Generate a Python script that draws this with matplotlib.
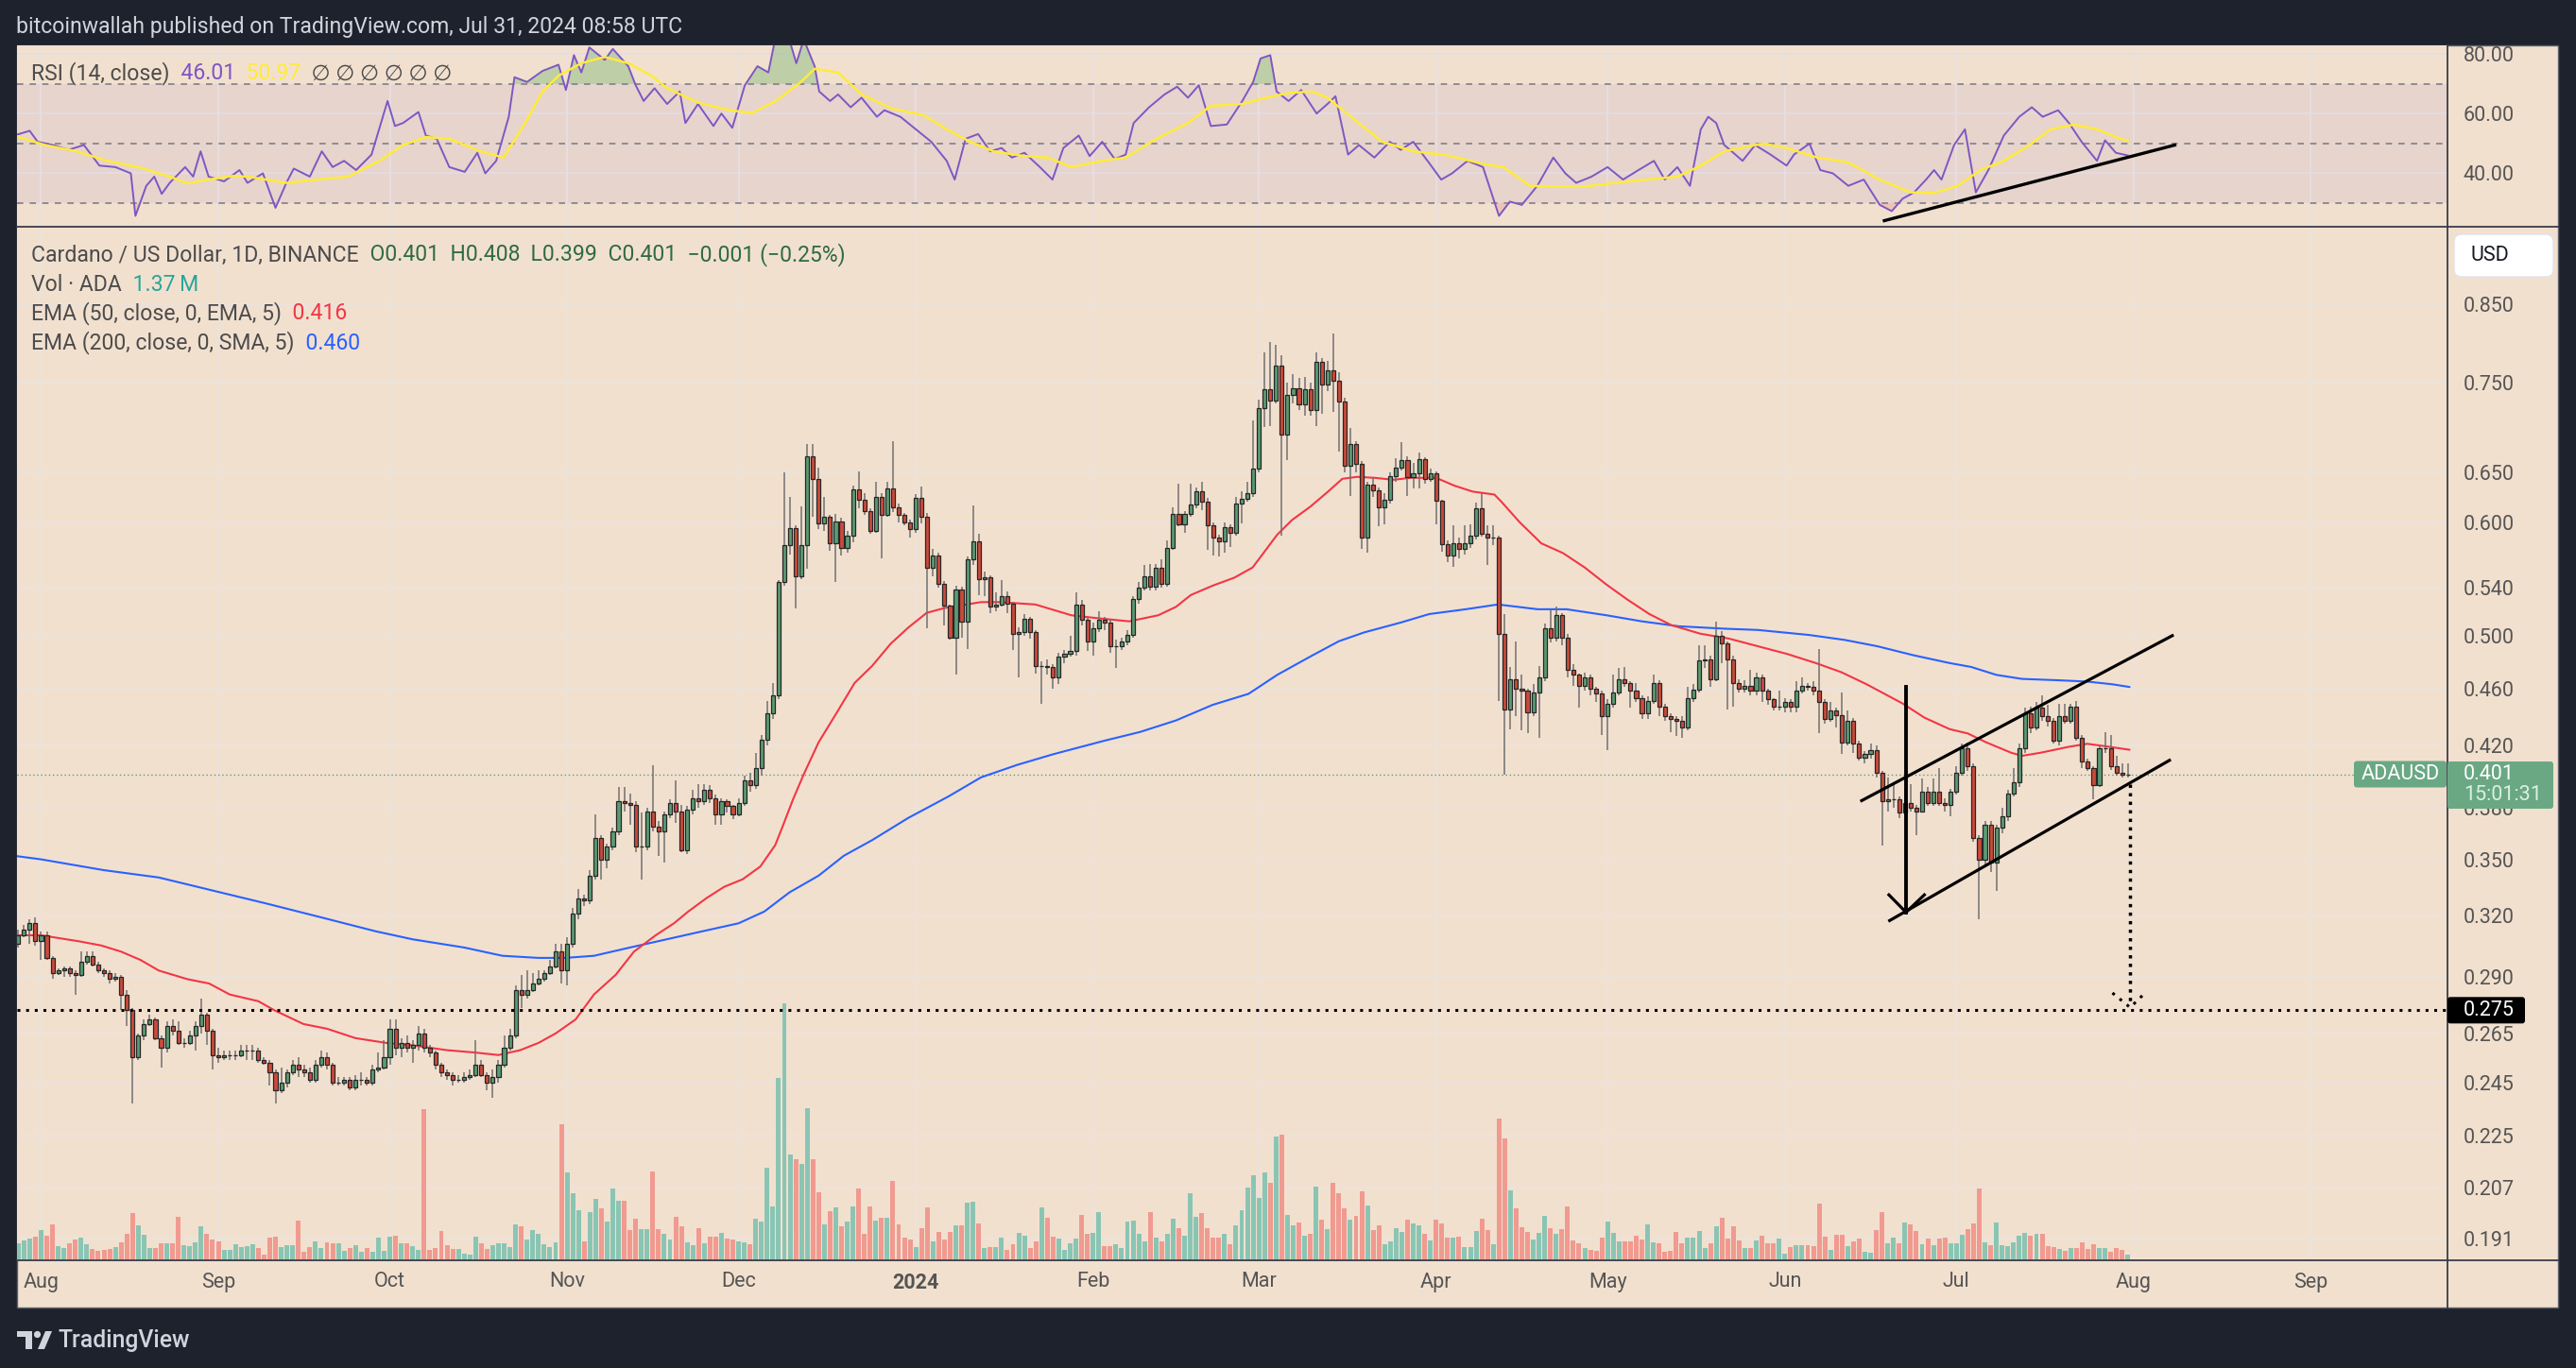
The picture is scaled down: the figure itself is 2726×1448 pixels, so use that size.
import numpy as np
import pandas as pd
import matplotlib
matplotlib.use("Agg")
import matplotlib.pyplot as plt
import matplotlib.transforms as mtransforms
from matplotlib.lines import Line2D
from matplotlib.patches import Rectangle, FancyBboxPatch, Polygon, Circle
from matplotlib.ticker import FixedLocator, NullLocator, NullFormatter

# ===================== DATA =====================
# Daily ADA/USD candles, first candle 2023-07-28, last 2024-07-31.
first_date = "2023-07-28"
first_open = 0.306
closes = [
    0.310, 0.313, 0.316, 0.307,
    0.310, 0.299, 0.292, 0.293, 0.294, 0.292, 0.291, 0.297, 0.300, 0.296,
    0.293, 0.292, 0.289, 0.290, 0.282, 0.275, 0.255, 0.264, 0.269, 0.271,
    0.263, 0.259, 0.268, 0.266, 0.261, 0.261, 0.264, 0.268, 0.273, 0.266,
    0.256, 0.255, 0.256, 0.256, 0.256, 0.258, 0.258, 0.258, 0.254, 0.253,
    0.249, 0.242, 0.245, 0.249, 0.252, 0.250, 0.249, 0.246, 0.252, 0.255,
    0.252, 0.245, 0.245, 0.246, 0.243, 0.246, 0.246, 0.245, 0.250, 0.251,
    0.255, 0.267, 0.259, 0.261, 0.259, 0.260, 0.265, 0.259, 0.257, 0.252,
    0.249, 0.248, 0.246, 0.246, 0.247, 0.248, 0.252, 0.248, 0.245, 0.247,
    0.252, 0.259, 0.264, 0.284, 0.282, 0.284, 0.287, 0.289, 0.292, 0.295,
    0.302, 0.293, 0.306, 0.321, 0.329, 0.328, 0.341, 0.362, 0.350, 0.357,
    0.366, 0.384, 0.383, 0.382, 0.357, 0.357, 0.378, 0.369, 0.366, 0.376,
    0.383, 0.378, 0.355, 0.379, 0.386, 0.384, 0.391, 0.386, 0.376, 0.384,
    0.381, 0.376, 0.383, 0.397, 0.394, 0.405, 0.424, 0.442, 0.455, 0.545,
    0.578, 0.594, 0.550, 0.578, 0.667, 0.643, 0.599, 0.605, 0.580, 0.601,
    0.576, 0.587, 0.632, 0.622, 0.611, 0.592, 0.625, 0.607, 0.633, 0.614,
    0.607, 0.600, 0.593, 0.624, 0.605, 0.558, 0.569, 0.544, 0.525, 0.499,
    0.539, 0.512, 0.565, 0.582, 0.548, 0.549, 0.524, 0.526, 0.533, 0.527,
    0.502, 0.503, 0.514, 0.503, 0.477, 0.477, 0.476, 0.468, 0.484, 0.486,
    0.488, 0.526, 0.513, 0.496, 0.506, 0.513, 0.511, 0.492, 0.492, 0.496,
    0.501, 0.531, 0.540, 0.550, 0.541, 0.558, 0.544, 0.576, 0.608, 0.598,
    0.608, 0.617, 0.630, 0.620, 0.597, 0.585, 0.582, 0.595, 0.590, 0.618,
    0.623, 0.628, 0.654, 0.720, 0.742, 0.729, 0.771, 0.690, 0.735, 0.743,
    0.724, 0.742, 0.718, 0.775, 0.748, 0.765, 0.752, 0.728, 0.657, 0.680,
    0.659, 0.585, 0.637, 0.631, 0.614, 0.622, 0.646, 0.655, 0.663, 0.645,
    0.649, 0.664, 0.643, 0.649, 0.621, 0.579, 0.569, 0.580, 0.575, 0.580,
    0.587, 0.613, 0.589, 0.585, 0.585, 0.502, 0.445, 0.467, 0.460, 0.458,
    0.443, 0.457, 0.468, 0.506, 0.499, 0.517, 0.499, 0.474, 0.470, 0.462,
    0.468, 0.460, 0.456, 0.440, 0.449, 0.457, 0.467, 0.464, 0.458, 0.453,
    0.442, 0.451, 0.464, 0.447, 0.440, 0.438, 0.437, 0.432, 0.453, 0.459,
    0.481, 0.482, 0.467, 0.500, 0.494, 0.482, 0.464, 0.460, 0.462, 0.458,
    0.468, 0.458, 0.452, 0.447, 0.447, 0.450, 0.447, 0.458, 0.462, 0.461,
    0.458, 0.450, 0.438, 0.444, 0.441, 0.422, 0.437, 0.421, 0.412, 0.414,
    0.417, 0.402, 0.384, 0.385, 0.385, 0.377, 0.383, 0.380, 0.378, 0.390,
    0.383, 0.390, 0.383, 0.382, 0.390, 0.402, 0.418, 0.406, 0.362, 0.350,
    0.370, 0.348, 0.368, 0.375, 0.389, 0.396, 0.418, 0.442, 0.432, 0.446,
    0.440, 0.437, 0.423, 0.440, 0.437, 0.447, 0.425, 0.409, 0.405, 0.394,
    0.418, 0.418, 0.406, 0.402, 0.401, 0.401,
]
highs = [
    0.313, 0.315, 0.318, 0.319,
    0.312, 0.312, 0.300, 0.294, 0.295, 0.295, 0.293, 0.302, 0.302, 0.302,
    0.297, 0.294, 0.293, 0.292, 0.291, 0.284, 0.276, 0.265, 0.271, 0.273,
    0.272, 0.264, 0.270, 0.271, 0.270, 0.263, 0.266, 0.270, 0.280, 0.274,
    0.267, 0.259, 0.258, 0.258, 0.258, 0.260, 0.260, 0.260, 0.259, 0.255,
    0.254, 0.250, 0.251, 0.250, 0.254, 0.255, 0.252, 0.251, 0.254, 0.258,
    0.257, 0.253, 0.247, 0.247, 0.247, 0.248, 0.249, 0.247, 0.252, 0.257,
    0.262, 0.271, 0.271, 0.263, 0.264, 0.262, 0.268, 0.267, 0.260, 0.258,
    0.253, 0.250, 0.249, 0.248, 0.249, 0.250, 0.262, 0.254, 0.249, 0.250,
    0.254, 0.264, 0.267, 0.286, 0.291, 0.293, 0.292, 0.293, 0.293, 0.298,
    0.306, 0.306, 0.309, 0.324, 0.334, 0.331, 0.344, 0.376, 0.364, 0.359,
    0.368, 0.393, 0.393, 0.389, 0.384, 0.377, 0.380, 0.407, 0.372, 0.378,
    0.385, 0.397, 0.382, 0.381, 0.391, 0.395, 0.395, 0.394, 0.388, 0.386,
    0.385, 0.382, 0.386, 0.400, 0.402, 0.415, 0.427, 0.451, 0.464, 0.547,
    0.650, 0.625, 0.597, 0.615, 0.680, 0.680, 0.655, 0.625, 0.607, 0.608,
    0.604, 0.592, 0.636, 0.651, 0.628, 0.613, 0.640, 0.628, 0.640, 0.683,
    0.618, 0.609, 0.602, 0.627, 0.635, 0.609, 0.575, 0.571, 0.546, 0.526,
    0.542, 0.541, 0.568, 0.616, 0.589, 0.554, 0.551, 0.536, 0.547, 0.537,
    0.528, 0.507, 0.518, 0.516, 0.505, 0.480, 0.482, 0.478, 0.487, 0.489,
    0.500, 0.536, 0.530, 0.515, 0.511, 0.520, 0.516, 0.513, 0.497, 0.499,
    0.505, 0.533, 0.545, 0.560, 0.561, 0.561, 0.565, 0.583, 0.614, 0.638,
    0.611, 0.638, 0.634, 0.640, 0.624, 0.600, 0.588, 0.600, 0.598, 0.625,
    0.630, 0.640, 0.706, 0.730, 0.787, 0.800, 0.797, 0.784, 0.750, 0.760,
    0.755, 0.757, 0.750, 0.787, 0.780, 0.776, 0.811, 0.762, 0.732, 0.697,
    0.683, 0.662, 0.640, 0.645, 0.634, 0.628, 0.650, 0.665, 0.682, 0.667,
    0.660, 0.671, 0.666, 0.654, 0.651, 0.622, 0.583, 0.597, 0.585, 0.597,
    0.598, 0.619, 0.628, 0.597, 0.597, 0.587, 0.518, 0.476, 0.496, 0.470,
    0.460, 0.463, 0.477, 0.510, 0.522, 0.524, 0.519, 0.502, 0.478, 0.471,
    0.472, 0.470, 0.461, 0.458, 0.452, 0.470, 0.475, 0.476, 0.465, 0.464,
    0.455, 0.454, 0.470, 0.466, 0.449, 0.442, 0.440, 0.440, 0.461, 0.463,
    0.493, 0.493, 0.485, 0.512, 0.504, 0.496, 0.485, 0.467, 0.466, 0.474,
    0.472, 0.470, 0.460, 0.453, 0.458, 0.453, 0.452, 0.465, 0.468, 0.464,
    0.465, 0.490, 0.452, 0.450, 0.446, 0.457, 0.444, 0.439, 0.423, 0.416,
    0.421, 0.420, 0.403, 0.399, 0.395, 0.387, 0.392, 0.395, 0.382, 0.398,
    0.393, 0.398, 0.405, 0.386, 0.392, 0.406, 0.421, 0.422, 0.408, 0.364,
    0.372, 0.372, 0.370, 0.380, 0.391, 0.405, 0.421, 0.446, 0.447, 0.450,
    0.455, 0.448, 0.439, 0.449, 0.449, 0.449, 0.451, 0.427, 0.411, 0.406,
    0.420, 0.429, 0.427, 0.413, 0.408, 0.408,
]
lows = [
    0.304, 0.309, 0.306, 0.305,
    0.298, 0.298, 0.289, 0.291, 0.290, 0.290, 0.282, 0.290, 0.296, 0.295,
    0.292, 0.290, 0.287, 0.288, 0.275, 0.268, 0.237, 0.254, 0.262, 0.268,
    0.262, 0.251, 0.257, 0.264, 0.260, 0.259, 0.260, 0.258, 0.265, 0.260,
    0.250, 0.253, 0.254, 0.254, 0.254, 0.255, 0.254, 0.254, 0.253, 0.252,
    0.244, 0.237, 0.241, 0.243, 0.248, 0.247, 0.247, 0.245, 0.245, 0.251,
    0.250, 0.244, 0.244, 0.244, 0.242, 0.242, 0.244, 0.244, 0.244, 0.249,
    0.250, 0.252, 0.256, 0.255, 0.257, 0.253, 0.258, 0.257, 0.255, 0.250,
    0.247, 0.246, 0.244, 0.245, 0.245, 0.246, 0.247, 0.247, 0.242, 0.239,
    0.245, 0.251, 0.258, 0.263, 0.276, 0.280, 0.283, 0.286, 0.288, 0.291,
    0.294, 0.287, 0.286, 0.304, 0.318, 0.325, 0.326, 0.339, 0.339, 0.345,
    0.355, 0.364, 0.378, 0.370, 0.354, 0.339, 0.355, 0.366, 0.352, 0.348,
    0.374, 0.371, 0.354, 0.353, 0.376, 0.380, 0.382, 0.383, 0.370, 0.370,
    0.377, 0.373, 0.375, 0.381, 0.390, 0.392, 0.400, 0.420, 0.438, 0.452,
    0.542, 0.570, 0.523, 0.548, 0.557, 0.605, 0.593, 0.592, 0.573, 0.545,
    0.569, 0.571, 0.581, 0.613, 0.607, 0.589, 0.590, 0.566, 0.605, 0.610,
    0.600, 0.597, 0.585, 0.590, 0.599, 0.506, 0.550, 0.540, 0.509, 0.497,
    0.470, 0.499, 0.490, 0.560, 0.534, 0.533, 0.519, 0.520, 0.524, 0.519,
    0.489, 0.468, 0.500, 0.498, 0.471, 0.449, 0.470, 0.460, 0.463, 0.479,
    0.484, 0.485, 0.509, 0.488, 0.485, 0.503, 0.505, 0.487, 0.475, 0.489,
    0.493, 0.499, 0.527, 0.538, 0.538, 0.538, 0.540, 0.541, 0.574, 0.596,
    0.590, 0.605, 0.613, 0.612, 0.574, 0.569, 0.568, 0.571, 0.577, 0.587,
    0.599, 0.620, 0.625, 0.650, 0.698, 0.700, 0.725, 0.587, 0.663, 0.725,
    0.718, 0.711, 0.711, 0.700, 0.713, 0.740, 0.716, 0.672, 0.650, 0.626,
    0.650, 0.575, 0.571, 0.625, 0.596, 0.598, 0.618, 0.640, 0.652, 0.626,
    0.633, 0.633, 0.638, 0.640, 0.598, 0.572, 0.563, 0.559, 0.566, 0.570,
    0.576, 0.584, 0.586, 0.560, 0.578, 0.451, 0.401, 0.431, 0.440, 0.430,
    0.428, 0.440, 0.425, 0.465, 0.495, 0.496, 0.493, 0.468, 0.462, 0.446,
    0.458, 0.455, 0.450, 0.427, 0.417, 0.446, 0.455, 0.461, 0.446, 0.450,
    0.438, 0.438, 0.449, 0.440, 0.437, 0.429, 0.426, 0.425, 0.430, 0.450,
    0.457, 0.475, 0.461, 0.465, 0.479, 0.445, 0.447, 0.457, 0.457, 0.455,
    0.455, 0.450, 0.448, 0.444, 0.444, 0.443, 0.443, 0.443, 0.456, 0.458,
    0.455, 0.428, 0.435, 0.436, 0.432, 0.414, 0.420, 0.415, 0.410, 0.408,
    0.411, 0.399, 0.358, 0.378, 0.380, 0.374, 0.375, 0.378, 0.364, 0.377,
    0.381, 0.381, 0.381, 0.378, 0.375, 0.388, 0.400, 0.403, 0.360, 0.318,
    0.347, 0.343, 0.333, 0.365, 0.372, 0.387, 0.393, 0.415, 0.428, 0.430,
    0.437, 0.433, 0.421, 0.420, 0.435, 0.435, 0.423, 0.405, 0.403, 0.385,
    0.393, 0.415, 0.404, 0.400, 0.399, 0.399,
]
# volume (relative units)
volumes = [
    18, 21, 23, 25,
    32, 26, 38, 15, 13, 18, 22, 24, 17, 12,
    10, 11, 12, 14, 19, 28, 50, 37, 27, 13,
    13, 18, 18, 18, 46, 16, 15, 19, 36, 28,
    22, 20, 11, 11, 17, 14, 15, 17, 13, 6,
    24, 25, 14, 16, 16, 42, 9, 14, 20, 13,
    19, 18, 18, 10, 13, 16, 9, 13, 9, 24,
    10, 25, 26, 18, 18, 15, 11, 160, 11, 13,
    31, 16, 12, 12, 7, 6, 25, 18, 12, 16,
    18, 18, 14, 38, 36, 22, 32, 28, 17, 14,
    19, 144, 93, 71, 53, 20, 51, 65, 55, 41,
    76, 63, 63, 32, 44, 33, 33, 94, 33, 28,
    22, 46, 36, 19, 16, 34, 18, 25, 25, 29,
    23, 22, 20, 19, 17, 44, 41, 98, 57, 193,
    272, 112, 107, 102, 161, 107, 72, 38, 52, 56,
    36, 41, 57, 76, 28, 57, 42, 45, 45, 84,
    38, 24, 22, 14, 34, 56, 20, 30, 22, 30,
    37, 37, 61, 62, 39, 13, 14, 14, 24, 11,
    17, 29, 26, 13, 20, 56, 45, 25, 23, 11,
    18, 23, 48, 28, 29, 51, 15, 15, 17, 13,
    41, 42, 28, 20, 51, 24, 20, 28, 44, 34,
    26, 71, 46, 50, 34, 24, 24, 28, 17, 37,
    53, 77, 90, 66, 93, 82, 131, 133, 48, 37,
    40, 26, 28, 78, 43, 33, 82, 71, 55, 43,
    47, 73, 58, 32, 37, 17, 20, 34, 30, 43,
    39, 37, 28, 21, 43, 39, 24, 24, 25, 14,
    14, 31, 44, 32, 17, 150, 129, 74, 55, 35,
    30, 22, 29, 47, 34, 28, 33, 57, 21, 18,
    13, 11, 10, 24, 41, 29, 20, 20, 20, 26,
    22, 38, 19, 18, 9, 10, 30, 18, 24, 24,
    31, 13, 18, 36, 45, 23, 36, 21, 13, 13,
    21, 26, 18, 18, 23, 7, 14, 16, 16, 16,
    15, 60, 25, 11, 27, 27, 15, 20, 23, 9,
    8, 32, 51, 18, 24, 18, 40, 38, 31, 17,
    23, 16, 23, 24, 18, 18, 27, 33, 39, 76,
    19, 16, 40, 16, 15, 19, 26, 29, 26, 28,
    28, 15, 14, 12, 10, 13, 13, 19, 12, 17,
    13, 13, 9, 13, 11, 6,
]

# Indicator lines, x = days since 2023-08-01
ema50_days = [-4.7, 0, 6.7, 10.5, 14, 17.4, 20.6, 25.6, 29.4, 33, 38, 40.8, 45.9, 50, 55, 60.4, 65, 71, 76, 80,
              83.8, 87, 90, 93.5, 96.7, 100.5, 103.7, 107.5, 110.7, 113.2, 116.4, 119.5, 122.7, 125.8, 128.4, 129.6,
              131.5, 133.4, 136, 139.1, 142.3, 145.4, 148.6, 151.7, 154.9, 158, 164.4, 167.6, 173.9, 180.2, 184,
              190.3, 195.4, 198.5, 201.1, 204.9, 208.7, 211.9, 213.8, 216.2, 218.8, 222, 225.1, 227.6, 230.2, 233.3,
              236.5, 239.6, 244, 247.2, 250.4, 254.2, 255.4, 258.6, 262.4, 266.2, 270, 273.8, 277.5, 281.3, 285.1,
              290.2, 295.3, 300.3, 305.4, 310.4, 314.9, 319.3, 325.6, 329.4, 333.8, 337, 340.2, 344.6, 346.5, 349.7,
              354.7, 357.9, 361.7, 365.3]
ema50_vals = [0.310, 0.310, 0.307, 0.305, 0.302, 0.298, 0.293, 0.289, 0.287, 0.282, 0.279, 0.275, 0.269, 0.267, 0.263,
              0.261, 0.260, 0.258, 0.257, 0.256, 0.258, 0.261, 0.265, 0.271, 0.282, 0.291, 0.302, 0.310, 0.316, 0.322,
              0.329, 0.335, 0.339, 0.346, 0.358, 0.368, 0.385, 0.401, 0.422, 0.442, 0.464, 0.477, 0.494, 0.507, 0.519,
              0.523, 0.528, 0.528, 0.526, 0.517, 0.515, 0.512, 0.517, 0.524, 0.534, 0.542, 0.549, 0.558, 0.571, 0.588,
              0.602, 0.615, 0.630, 0.643, 0.645, 0.644, 0.642, 0.644, 0.644, 0.636, 0.630, 0.627, 0.620, 0.600, 0.580,
              0.571, 0.558, 0.543, 0.530, 0.518, 0.509, 0.502, 0.498, 0.492, 0.486, 0.479, 0.472, 0.463, 0.449, 0.439,
              0.431, 0.428, 0.422, 0.415, 0.413, 0.415, 0.419, 0.421, 0.419, 0.417]
ema200_days = [-4.7, 0, 11, 20.6, 30, 39.6, 49, 58.5, 65, 74, 80.7, 87, 91.7, 96.7, 103, 109.4, 115.7, 122, 126.5,
               130.9, 136, 140.4, 145.4, 151.7, 158.7, 164.4, 170.7, 177, 185.9, 192.2, 198.5, 204.9, 211.2, 216.2,
               222, 227, 231.4, 237.8, 242.8, 249.2, 254.8, 261.8, 266.8, 273.8, 280, 286.4, 294.6, 300.3, 309.2,
               315.5, 321.2, 327.5, 333.8, 337.6, 342, 346.5, 352.8, 357.9, 362.3, 365.3]
ema200_vals = [0.352, 0.350, 0.344, 0.340, 0.333, 0.326, 0.319, 0.312, 0.308, 0.304, 0.300, 0.299, 0.299, 0.300,
               0.304, 0.308, 0.312, 0.316, 0.322, 0.332, 0.341, 0.352, 0.361, 0.374, 0.387, 0.399, 0.407, 0.414,
               0.423, 0.429, 0.437, 0.448, 0.456, 0.470, 0.484, 0.496, 0.503, 0.511, 0.518, 0.522, 0.526, 0.522,
               0.522, 0.517, 0.512, 0.508, 0.506, 0.505, 0.501, 0.497, 0.492, 0.485, 0.479, 0.476, 0.470, 0.467,
               0.466, 0.465, 0.463, 0.461]

rsi_days = [-4.7, -2.0, -0.6, 2.1, 4.8, 7.5, 10.2, 13.0, 15.7, 16.5, 18.4, 19.8, 21.1, 22.5, 25.2, 26.6, 27.9, 29.3,
            32.0, 34.7, 36.1, 38.8, 41.0, 42.9, 44.2, 47.0, 49.1, 51.0, 53.0, 55.1, 57.8, 60.6, 61.9, 63.3, 66.0,
            67.3, 69.2, 71.4, 74.1, 76.3, 77.7, 79.6, 81.8, 82.8, 85.0, 87.7, 90.5, 91.8, 93.2, 94.5, 95.9, 98.6,
            100.0, 102.7, 104.0, 105.4, 107.3, 109.5, 111.7, 112.7, 114.9, 117.6, 119.0, 120.9, 123.1, 125.3, 127.2,
            128.5, 130.4, 132.1, 133.4, 135.3, 136.1, 138.0, 139.4, 141.6, 143.5, 146.2, 147.5, 150.3, 153.0, 155.7,
            158.4, 159.8, 161.7, 163.9, 166.0, 168.0, 169.8, 172.0, 174.7, 176.9, 178.8, 181.5, 183.4, 185.6, 187.8,
            189.7, 191.1, 193.8, 196.5, 198.7, 200.6, 202.5, 204.6, 207.4, 210.1, 212.0, 213.3, 215.0, 216.1, 218.2,
            220.4, 223.1, 225.0, 226.4, 228.6, 230.5, 233.2, 235.9, 237.8, 240.0, 242.7, 244.9, 246.8, 249.5, 252.2,
            255.0, 256.9, 259.0, 261.7, 264.5, 266.6, 268.5, 271.2, 274.0, 276.7, 279.4, 282.1, 284.0, 286.2, 288.4,
            290.3, 291.6, 293.0, 294.4, 295.7, 297.6, 299.8, 302.5, 305.3, 306.6, 309.3, 311.2, 313.4, 316.1, 318.8,
            321.6, 323.7, 325.6, 327.6, 329.7, 331.1, 332.4, 334.6, 336.5, 338.4, 340.6, 343.3, 346.0, 348.2, 350.1,
            352.8, 354.7, 356.9, 359.6, 361.0, 362.9, 365.0]
rsi_vals = [52.7, 54.3, 50.6, 49.5, 47.9, 49.5, 42.6, 42.1, 40.0, 25.7, 35.8, 38.9, 33.1, 36.8, 42.1, 38.9, 47.4, 38.9,
            37.3, 41.1, 36.8, 40.0, 28.4, 36.8, 41.6, 38.9, 47.4, 42.1, 44.2, 41.1, 46.3, 64.3, 55.9, 56.9, 60.6,
            52.7, 51.6, 42.1, 40.5, 46.9, 40.0, 44.2, 59.0, 72.3, 70.7, 74.4, 76.5, 68.0, 79.7, 73.9, 82.3, 78.1,
            81.8, 76.0, 69.6, 64.3, 68.6, 63.3, 67.5, 56.9, 63.3, 55.9, 60.1, 55.3, 69.6, 76.0, 73.9,
            86.0, 88.0, 77.0, 85.0, 76.0, 67.5, 64.3, 66.5, 62.2, 65.4, 59.0, 61.2, 59.0, 54.8, 50.6,
            44.2, 37.9, 51.6, 53.2, 47.4, 48.5, 45.3, 46.9, 42.1, 37.9, 48.5, 52.7, 45.8, 50.6, 44.8,
            46.3, 56.9, 62.2, 66.5, 69.1, 65.4, 69.6, 55.9, 56.4, 64.3, 70.7, 78.6, 79.7, 67.5, 64.3,
            68.0, 60.1, 63.3, 65.9, 46.3, 49.5, 45.3, 50.6, 47.9, 50.6, 43.7, 37.9, 40.0, 44.2, 42.1,
            25.7, 30.5, 29.4, 35.8, 45.3, 40.0, 36.8, 38.9, 42.1, 37.9, 41.1, 44.2, 37.9, 42.1, 35.8,
            54.8, 59.0, 56.9, 49.5, 47.4, 44.2, 49.5, 46.3, 42.6, 46.3, 50.0, 41.1, 40.0, 35.8, 37.9,
            29.4, 27.3, 31.5, 33.6, 37.9, 41.1, 37.9, 49.5, 54.8, 33.6, 41.1, 52.7, 59.0, 62.2, 59.0,
            61.2, 56.9, 50.6, 44.2, 51.1, 46.9, 46.0]
rsi_ma_days = [-4.7, 0.7, 6.2, 11.6, 17.0, 22.5, 25.7, 29.3, 33.4, 36.1, 42.9, 48.3, 53.7, 59.2, 63.3, 67.3, 71.4,
               76.9, 80.9, 85.0, 87.7, 90.5, 94.5, 98.6, 102.7, 106.8, 109.5, 114.9, 120.4, 124.4, 128.5, 132.6,
               135.3, 139.4, 143.5, 148.9, 154.3, 158.4, 162.5, 166.6, 172.0, 176.1, 180.2, 185.6, 189.7, 195.1,
               200.6, 204.6, 210.1, 214.2, 218.2, 222.3, 225.0, 229.1, 234.6, 240.0, 245.4, 252.2, 255.8, 260.4,
               264.5, 269.9, 275.3, 280.8, 286.2, 290.3, 294.4, 298.5, 301.2, 305.3, 310.7, 316.1, 321.6, 327.0,
               331.1, 335.2, 339.2, 343.3, 347.4, 351.5, 355.6, 359.6, 363.7, 365.0]
rsi_ma_vals = [52.7, 49.5, 47.4, 44.2, 42.1, 38.9, 36.6, 37.9, 39.1, 38.9, 36.8, 37.9, 38.9, 44.2, 49.5, 52.2, 51.6,
               47.4, 45.3, 58.0, 67.5, 72.8, 77.0, 79.1, 77.0, 72.8, 68.6, 63.8, 61.2, 60.3, 64.3, 70.2, 75.1, 73.9,
               66.5, 61.7, 59.6, 54.8, 50.6, 47.4, 45.8, 45.3, 42.1, 44.2, 45.3, 51.6, 56.9, 62.7, 63.3, 65.4, 67.0,
               67.5, 65.4, 59.0, 50.6, 47.4, 46.3, 43.2, 42.1, 35.8, 35.6, 35.6, 36.8, 37.9, 38.9, 42.6, 47.4, 49.0,
               50.0, 48.5, 45.3, 43.7, 37.9, 33.6, 33.4, 35.8, 41.1, 44.2, 49.0, 54.8, 56.4, 54.8, 51.6, 51.0]

price_ticks = [0.850, 0.750, 0.650, 0.600, 0.540, 0.500, 0.460, 0.420, 0.380, 0.350, 0.320,
               0.290, 0.265, 0.245, 0.225, 0.207, 0.191]
rsi_ticks = [80, 60, 40]
rsi_levels = [70, 50, 30]
month_labels = ["Aug", "Sep", "Oct", "Nov", "Dec", "2024", "Feb", "Mar", "Apr", "May", "Jun", "Jul", "Aug", "Sep"]
month_starts = pd.date_range("2023-08-01", "2024-09-01", freq="MS")

last_price = 0.401
target_price = 0.275
# hand-drawn annotations (days since 2023-08-01, price)
channel_upper = ([318.2, 373.0], [0.384, 0.501])
channel_lower = ([323.1, 372.5], [0.317, 0.4105])
pole = ([326.2, 326.2], [0.461, 0.3216])
pole_head = ([323.2, 326.2, 329.4], [0.3307, 0.3216, 0.3307])
proj = ([365.4, 365.4], [0.395, 0.279])
proj_head = ([362.3, 365.4, 368.0], [0.2827, 0.2762, 0.2827])
rsi_trend = ([322.4, 373.2], [24.1, 49.5])

assert len(closes) == len(highs) == len(lows) == len(volumes)
assert len(ema50_days) == len(ema50_vals) and len(ema200_days) == len(ema200_vals)
assert len(rsi_days) == len(rsi_vals) and len(rsi_ma_days) == len(rsi_ma_vals)

# ===================== STYLE / LAYOUT =====================
FONT = ["Roboto", "DejaVu Sans"]
plt.rcParams["font.family"] = FONT
W, H = 2726, 1448
DARK = "#1e222d"
BG = "#f2e0cf"
GRID = "#ebe3df"
G_BODY, R_BODY, EDGE, WICK = "#5a9b73", "#cc4a3a", "#262626", "#707070"
VOL_G, VOL_R = "#8ac5b4", "#f09a90"
TAG = "#6aa884"
SEP = "#3a3d48"
TXT = "#4c4c4c"
AXT = "#555555"
FS = 15.5      # axis labels
FT = 16.6      # legend / header text

XL, XR, XPR = 18, 2590, 2707
YT, YSEP, YB, YAX = 48, 240, 1334, 1384


def rect(x0, y0, x1, y1):
    return [x0 / W, 1 - y1 / H, (x1 - x0) / W, (y1 - y0) / H]


ref = pd.Timestamp("2023-08-01")
dates = pd.date_range(first_date, periods=len(closes), freq="D")
x = np.asarray((dates - ref).days, dtype=float)
c = np.array(closes)
o = np.concatenate([[first_open], c[:-1]])
hi = np.array(highs)
lo = np.array(lows)
v = np.array(volumes, dtype=float)
up = c >= o
mx = np.asarray((month_starts - ref).days, dtype=float)
XLIM = (-4.21, 420.9)

fig = plt.figure(figsize=(W / 100, H / 100), dpi=100, facecolor=DARK)
fig.add_artist(Rectangle((XL / W, 1 - YAX / H), (XPR - XL) / W, (YAX - YT) / H,
                         transform=fig.transFigure, fc=BG, ec="#5d606b", lw=1, zorder=0))

ax_rsi = fig.add_axes(rect(XL, YT, XR, YSEP), facecolor=BG)
ax_vol = fig.add_axes(rect(XL, YSEP, XR, YB), facecolor=BG)
ax = fig.add_axes(rect(XL, YSEP, XR, YB), facecolor="none")

for a in (ax_rsi, ax_vol, ax):
    for s in a.spines.values():
        s.set_visible(False)
    a.set_xlim(*XLIM)

# ---- main price axes ----
ax.set_yscale("log")
ax.set_ylim(0.1844, 0.962)
ax.yaxis.set_major_locator(FixedLocator(price_ticks))
ax.yaxis.set_minor_locator(NullLocator())
ax.yaxis.set_minor_formatter(NullFormatter())
ax.set_yticks(price_ticks)
ax.set_yticklabels([f"{t:.3f}" for t in price_ticks])
ax.yaxis.tick_right()
ax.tick_params(axis="y", which="both", length=0, pad=12.2, labelsize=FS, labelcolor=AXT,
               left=False, labelleft=False, right=False, labelright=True)
ax.set_xticks(mx)
ax.set_xticklabels(month_labels)
ax.tick_params(axis="x", length=0, pad=9, labelsize=FS, labelcolor=AXT)
ax.get_xticklabels()[5].set_fontweight("bold")
ax.grid(False)

# ---- volume axes (background, with grid) ----
ax_vol.tick_params(left=False, bottom=False, labelleft=False, labelbottom=False)
for m in mx:
    ax_vol.axvline(m, color=GRID, lw=1.2, zorder=0.5)
blend = mtransforms.blended_transform_factory(ax_vol.transAxes, ax.transData)
for p in price_ticks:
    ax_vol.add_line(Line2D([0, 1], [p, p], transform=blend, color=GRID, lw=1.2, zorder=0.5))
ax_vol.bar(x, v, width=0.82, color=np.where(up, VOL_G, VOL_R), lw=0, zorder=2)
ax_vol.set_xlim(*XLIM)
ax_vol.set_ylim(0, max(v) / 0.2486)

# ---- candles ----
ax.axhline(last_price, color="#5b9e74", lw=1.0, ls=(0, (1, 2)), zorder=1.5)
ax.plot(ema200_days, ema200_vals, color="#2962ff", lw=1.5, zorder=2, solid_capstyle="round")
ax.plot(ema50_days, ema50_vals, color="#f23645", lw=1.5, zorder=2, solid_capstyle="round")
ax.vlines(x, lo, hi, color=WICK, lw=1.1, zorder=3)
ax.bar(x, np.abs(c - o), bottom=np.minimum(o, c), width=0.68,
       color=np.where(up, G_BODY, R_BODY), edgecolor=EDGE, linewidth=0.9, zorder=4)

# ---- annotations ----
ax.axhline(target_price, color="black", lw=2.2, ls=(0, (1, 2)), zorder=5)
ax.plot(*channel_upper, color="black", lw=2.3, zorder=6, solid_capstyle="butt")
ax.plot(*channel_lower, color="black", lw=2.3, zorder=6, solid_capstyle="butt")
ax.plot(*pole, color="black", lw=2.8, zorder=6)
ax.plot(*pole_head, color="black", lw=2.3, zorder=6)
ax.plot(*proj, color="black", lw=2.5, ls=(0, (1, 1.6)), zorder=6)
ax.plot(*proj_head, color="black", lw=2.2, ls=(0, (1, 2.2)), zorder=6)
ax.set_xlim(*XLIM)
ax.set_ylim(0.1844, 0.962)

# ---- RSI ----
ax_rsi.set_ylim(22.06, 83.0)
ax_rsi.axhspan(30, 70, color="#7e57c2", alpha=0.085, lw=0, zorder=0.3)
for m in mx:
    ax_rsi.axvline(m, color="#e8e0e3", lw=1.2, zorder=0.5)
for t in rsi_ticks:
    ax_rsi.axhline(t, color="#e4dde6", lw=1.2, zorder=0.5)
for lev in rsi_levels:
    ax_rsi.axhline(lev, color="#7d7f89", lw=1.2, ls=(0, (4, 4)), zorder=1)
rv = np.array(rsi_vals)
ax_rsi.fill_between(rsi_days, rv, 70, where=rv > 70, interpolate=True, color="#5fae5f", alpha=0.35, lw=0, zorder=1.2)
ax_rsi.fill_between(rsi_days, rv, 30, where=rv < 30, interpolate=True, color="#e57373", alpha=0.25, lw=0, zorder=1.2)
ax_rsi.plot(rsi_days, rsi_vals, color="#7e57c2", lw=1.4, zorder=2)
ax_rsi.plot(rsi_ma_days, rsi_ma_vals, color="#ffeb3b", lw=1.8, zorder=2.1)
ax_rsi.plot(*rsi_trend, color="black", lw=2.4, zorder=3)
ax_rsi.set_yticks(rsi_ticks)
ax_rsi.set_yticklabels([f"{t:.2f}" for t in rsi_ticks])
ax_rsi.yaxis.tick_right()
ax_rsi.tick_params(axis="y", length=0, pad=12.2, labelsize=FS, labelcolor=AXT,
                   left=False, labelleft=False, right=False, labelright=True)
ax_rsi.tick_params(axis="x", length=0, bottom=False, labelbottom=False)
ax_rsi.set_xlim(*XLIM)

# ===================== overlay (pixel coordinates) =====================
ov = fig.add_axes([0, 0, 1, 1], zorder=10)
ov.set_xlim(0, W)
ov.set_ylim(H, 0)
ov.axis("off")
ov.patch.set_visible(False)

ov.plot([XL, XPR], [YSEP, YSEP], color=SEP, lw=1.3)
ov.plot([XL, XPR], [YB, YB], color=SEP, lw=1.3)
ov.plot([XR, XR], [YT, YAX], color=SEP, lw=1.3)

renderer = fig.canvas.get_renderer()


def seq_text(x0, y0, pieces, size=FT):
    xx = x0
    for s, col in pieces:
        t = ov.text(xx, y0, s, color=col, fontsize=size, va="center", ha="left")
        xx += t.get_window_extent(renderer=renderer).width


def price_px(p):
    return H - ax.transData.transform((0, p))[1]


ov.text(17, 28, "bitcoinwallah published on TradingView.com, Jul 31, 2024 08:58 UTC",
        color="#d1d4dc", fontsize=FT, va="center", ha="left")

GREEN_TXT = "#2f6b43"
seq_text(33, 78, [("RSI (14, close)", TXT), ("  46.01", "#7e57c2"), ("  50.97", "#ffeb3b"),
                  ("  \u2205 \u2205 \u2205 \u2205 \u2205 \u2205", TXT)])
seq_text(33, 270, [("Cardano / US Dollar, 1D, BINANCE", TXT), ("  O0.401", GREEN_TXT), ("  H0.408", GREEN_TXT),
                   ("  L0.399", GREEN_TXT), ("  C0.401", GREEN_TXT), ("  \u22120.001 (\u22120.25%)", GREEN_TXT)])
seq_text(33, 302, [("Vol \u00b7 ADA", TXT), ("  1.37\u202fM", "#26a69a")])
seq_text(33, 332, [("EMA (50, close, 0, EMA, 5)", TXT), ("  0.416", "#f23645")])
seq_text(33, 363, [("EMA (200, close, 0, SMA, 5)", TXT), ("  0.460", "#2962ff")])

# USD box
ov.add_patch(FancyBboxPatch((2597, 248), 105, 45, boxstyle="round,pad=0,rounding_size=8",
                            fc="white", ec="#e0e3eb", lw=1, zorder=11))
ov.text(2614, 271, "USD", color="#131722", fontsize=FS, va="center", ha="left", zorder=12)

# last price tags
yp = price_px(last_price)
ov.add_patch(FancyBboxPatch((2491, yp - 14), 98, 28, boxstyle="round,pad=0,rounding_size=3",
                            fc=TAG, ec="none", zorder=11))
ov.text(2540, yp, "ADAUSD", color="white", fontsize=FS, va="center", ha="center", zorder=12)
ov.add_patch(FancyBboxPatch((XR, yp - 13.5), 112, 50, boxstyle="round,pad=0,rounding_size=3",
                            fc=TAG, ec="none", zorder=11))
ov.text(2607, yp, f"{last_price:.3f}", color="white", fontsize=FS, va="center", ha="left", zorder=12)
ov.text(2607, yp + 22, "15:01:31", color="#dcefe2", fontsize=FS, va="center", ha="left", zorder=12)

# target tag
yt = price_px(target_price)
ov.add_patch(FancyBboxPatch((XR, yt - 14), 82, 28, boxstyle="round,pad=0,rounding_size=3",
                            fc="black", ec="none", zorder=11))
ov.text(2607, yt, f"{target_price:.3f}", color="white", fontsize=FS, va="center", ha="left", zorder=12)

# TradingView logo
LOGO = "#d1d4dc"
ov.add_patch(Rectangle((18, 1409), 16, 6, fc=LOGO, ec="none"))
ov.add_patch(Rectangle((27, 1409), 7, 19, fc=LOGO, ec="none"))
ov.add_patch(Circle((39.5, 1412.5), 3.6, fc=LOGO, ec="none"))
ov.add_patch(Polygon([(40, 1428), (47, 1428), (55, 1409), (48, 1409)], closed=True, fc=LOGO, ec="none"))
ov.text(61, 1419, "TradingView", color=LOGO, fontsize=17.8, va="center", ha="left", fontweight="medium")

fig.savefig("out.png", dpi=100, facecolor=DARK)
